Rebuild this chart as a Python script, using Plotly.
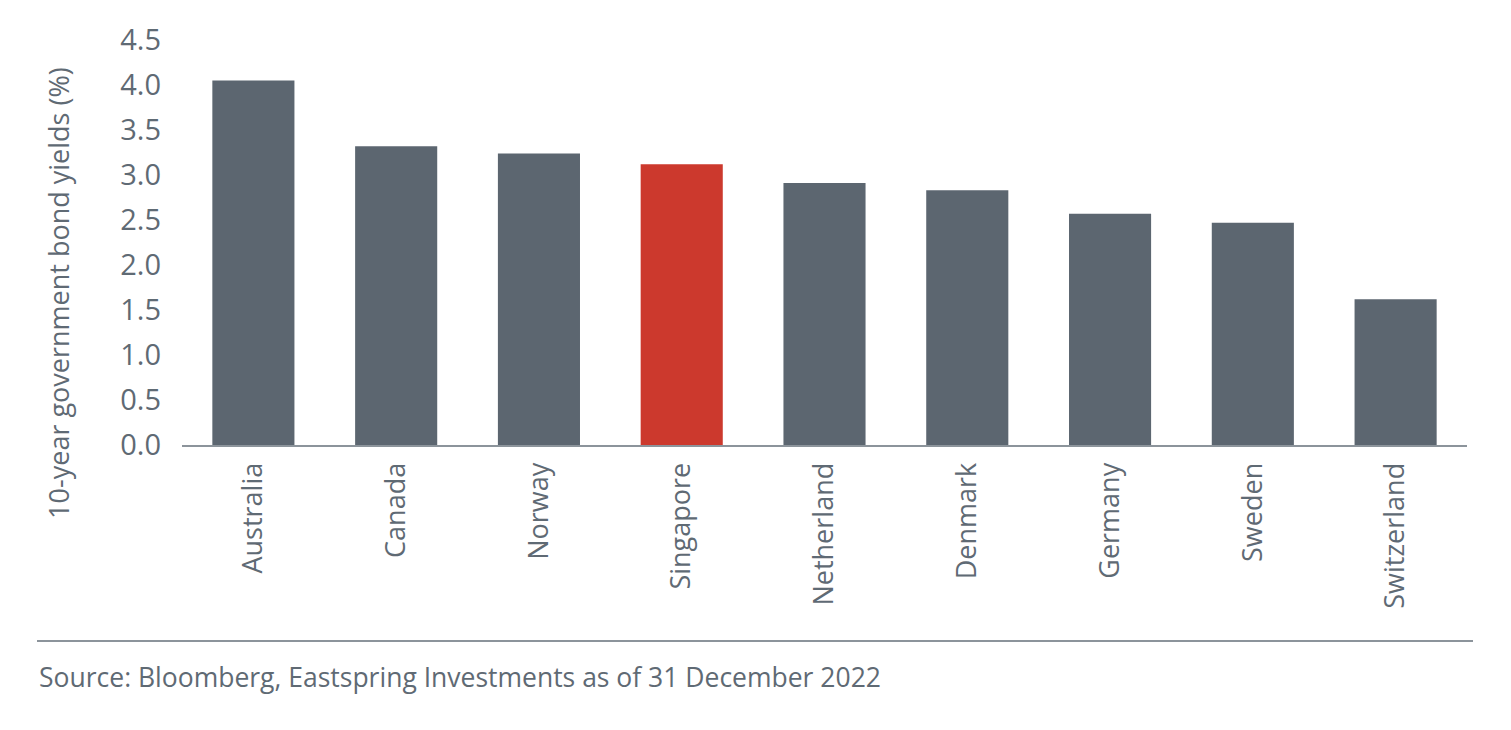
import plotly.graph_objects as go

countries = ["Australia", "Canada", "Norway", "Singapore", "Netherland",
             "Denmark", "Germany", "Sweden", "Switzerland"]
yields = [4.05, 3.32, 3.24, 3.12, 2.91, 2.83, 2.57, 2.47, 1.62]
highlight = "Singapore"
y_ticks = [0.0, 0.5, 1.0, 1.5, 2.0, 2.5, 3.0, 3.5, 4.0, 4.5]
y_title = "10-year government bond yields (%)"
source = "Source: Bloomberg, Eastspring Investments as of 31 December 2022"

GREY = "#5c6670"
RED = "#cc392d"
TEXT = "#5f6a74"
AXIS = "#8c949b"
FONT = "Open Sans"

OFF = 8  # page body margin
W, H = 1511 - OFF, 730 - OFF
ml, mr, mt, mb = 182 - OFF, 44, 39.5 - OFF, 284.5
pw, ph = W - ml - mr, H - mt - mb

def px_x(x):
    return (x - OFF - ml) / pw

def px_y(y):
    return (H - mb - (y - OFF)) / ph

colors = [RED if c == highlight else GREY for c in countries]

fig = go.Figure(go.Bar(x=countries, y=yields, marker=dict(color=colors, line=dict(width=0)),
                       width=0.575))

fig.update_layout(
    width=W, height=H,
    margin=dict(l=ml, r=mr, t=mt, b=mb, autoexpand=False),
    paper_bgcolor="white", plot_bgcolor="white",
    font=dict(family=FONT, color=TEXT),
    showlegend=False,
    xaxis=dict(
        showgrid=False, showline=True, linecolor=AXIS, linewidth=2,
        ticks="", tickangle=-90, tickfont=dict(size=27, color=TEXT, family=FONT),
        ticklabelstandoff=5, range=[-0.5, 8.5],
    ),
    yaxis=dict(
        range=[0, 4.5], tickvals=y_ticks, ticktext=[f"{v:.1f}" for v in y_ticks],
        showgrid=False, zeroline=False, showline=False, ticks="",
        tickfont=dict(size=29, color=TEXT, family=FONT), ticklabelstandoff=20,
    ),
    shapes=[dict(type="line", xref="paper", yref="paper",
                 x0=px_x(37), x1=px_x(1473), y0=px_y(642), y1=px_y(642),
                 line=dict(color=AXIS, width=2))],
    annotations=[
        dict(text=y_title, textangle=-90, xref="paper", yref="paper",
             x=px_x(59), y=px_y(293), xanchor="center", yanchor="middle",
             showarrow=False, font=dict(size=27, color=TEXT, family=FONT)),
        dict(text=source, xref="paper", yref="paper",
             x=px_x(37), y=px_y(678), xanchor="left", yanchor="middle",
             showarrow=False, font=dict(size=26.5, color=TEXT, family=FONT)),
    ],
)

fig.write_html("out.html")
